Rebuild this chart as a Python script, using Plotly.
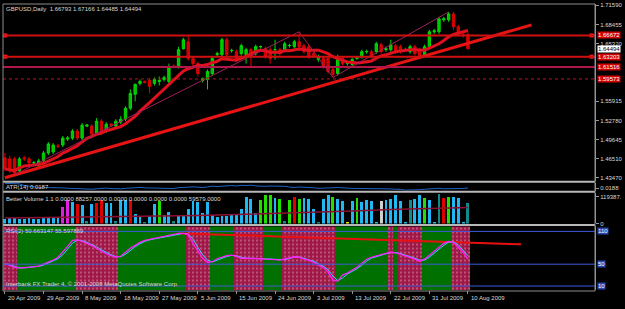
import plotly.graph_objects as go
import pandas as pd

# ---------------- data ----------------
tick_idx = [0, 8, 16, 24, 32, 40, 48, 56, 64, 72, 80, 88, 96]
tick_labels = ["20 Apr 2009", "29 Apr 2009", "8 May 2009", "18 May 2009", "27 May 2009",
               "5 Jun 2009", "15 Jun 2009", "24 Jun 2009", "3 Jul 2009", "13 Jul 2009",
               "22 Jul 2009", "31 Jul 2009", "10 Aug 2009"]

opens = [1.4668, 1.4652, 1.4652, 1.4458, 1.4668, 1.4652, 1.4587, 1.4539, 1.4620, 1.4749,
         1.4765, 1.4863, 1.4879, 1.4976, 1.4992, 1.5106, 1.4992, 1.5187, 1.5187, 1.5073,
         1.5268, 1.5106, 1.5219, 1.5187, 1.5252, 1.5300, 1.5479, 1.5706, 1.5884, 1.5916,
         1.5932, 1.5884, 1.5916, 1.5949, 1.5916, 1.6170, 1.6159, 1.6451, 1.6564, 1.6289,
         1.6208, 1.5932, 1.5949, 1.6046, 1.6354, 1.6354, 1.6597, 1.6419, 1.6402, 1.6370,
         1.6354, 1.6435, 1.6370, 1.6484, 1.6451, 1.6435, 1.6435, 1.6435, 1.6435, 1.6500,
         1.6484, 1.6564, 1.6500, 1.6484, 1.6370, 1.6273, 1.6289, 1.6289, 1.6111, 1.6046,
         1.6289, 1.6208, 1.6192, 1.6289, 1.6321, 1.6402, 1.6402, 1.6402, 1.6516, 1.6435,
         1.6435, 1.6500, 1.6484, 1.6435, 1.6402, 1.6484, 1.6435, 1.6354, 1.6484, 1.6727,
         1.6727, 1.6921, 1.6921, 1.7018, 1.6808, 1.6678, 1.66793]
closes = [1.4490, 1.4458, 1.4425, 1.4652, 1.4655, 1.4587, 1.4590, 1.4620, 1.4749, 1.4895,
          1.4879, 1.4860, 1.4992, 1.4995, 1.5106, 1.4992, 1.5203, 1.5205, 1.5057, 1.5268,
          1.5073, 1.5219, 1.5203, 1.5268, 1.5300, 1.5479, 1.5722, 1.5868, 1.5916, 1.5900,
          1.5835, 1.5949, 1.5932, 1.5981, 1.6159, 1.6159, 1.6435, 1.6597, 1.6289, 1.6208,
          1.6046, 1.5965, 1.6078, 1.6289, 1.6370, 1.6597, 1.6354, 1.6422, 1.6289, 1.6500,
          1.6435, 1.6321, 1.6484, 1.6487, 1.6321, 1.6289, 1.6437, 1.6370, 1.6532, 1.6503,
          1.6564, 1.6484, 1.6402, 1.6321, 1.6338, 1.6321, 1.6159, 1.6078, 1.6030, 1.6273,
          1.6208, 1.6211, 1.6273, 1.6305, 1.6402, 1.6405, 1.6321, 1.6532, 1.6402, 1.6451,
          1.6516, 1.6402, 1.6402, 1.6437, 1.6484, 1.6370, 1.6321, 1.6484, 1.6727, 1.6743,
          1.6937, 1.6940, 1.7018, 1.6808, 1.6694, 1.6676, 1.64494]
highs = [1.4749, 1.4701, 1.4684, 1.4684, 1.4701, 1.4684, 1.4620, 1.4652, 1.4782, 1.4927,
         1.4911, 1.4895, 1.5025, 1.5025, 1.5138, 1.5138, 1.5236, 1.5219, 1.5219, 1.5317,
         1.5300, 1.5252, 1.5236, 1.5300, 1.5349, 1.5511, 1.5787, 1.5884, 1.5949, 1.5932,
         1.5965, 1.5981, 1.5997, 1.6013, 1.6208, 1.6192, 1.6484, 1.6629, 1.6678, 1.6321,
         1.6240, 1.5981, 1.6111, 1.6321, 1.6402, 1.6629, 1.6629, 1.6451, 1.6435, 1.6532,
         1.6467, 1.6467, 1.6516, 1.6500, 1.6484, 1.6467, 1.6597, 1.6467, 1.6564, 1.6532,
         1.6597, 1.6727, 1.6532, 1.6516, 1.6402, 1.6354, 1.6321, 1.6321, 1.6143, 1.6354,
         1.6321, 1.6240, 1.6305, 1.6321, 1.6435, 1.6435, 1.6435, 1.6564, 1.6548, 1.6484,
         1.6597, 1.6532, 1.6516, 1.6467, 1.6516, 1.6516, 1.6467, 1.6516, 1.6759, 1.6775,
         1.6970, 1.6970, 1.7051, 1.7051, 1.6840, 1.6727, 1.67166]
lows = [1.4458, 1.4425, 1.4393, 1.4425, 1.4620, 1.4539, 1.4555, 1.4506, 1.4587, 1.4717,
        1.4733, 1.4830, 1.4846, 1.4944, 1.4960, 1.4960, 1.4960, 1.5171, 1.5025, 1.5041,
        1.5041, 1.5073, 1.5171, 1.5154, 1.5219, 1.5268, 1.5446, 1.5592, 1.5851, 1.5884,
        1.5722, 1.5851, 1.5851, 1.5916, 1.5884, 1.6143, 1.6127, 1.6435, 1.6257, 1.6159,
        1.5997, 1.5900, 1.5787, 1.6013, 1.6321, 1.6321, 1.6321, 1.6386, 1.6240, 1.6338,
        1.6208, 1.6159, 1.6338, 1.6451, 1.6289, 1.6208, 1.6273, 1.6338, 1.6402, 1.6467,
        1.6451, 1.6451, 1.6370, 1.6289, 1.6305, 1.6240, 1.6127, 1.6046, 1.5981, 1.6013,
        1.6176, 1.6176, 1.6159, 1.6273, 1.6289, 1.6370, 1.6289, 1.6370, 1.6370, 1.6402,
        1.6402, 1.6370, 1.6370, 1.6402, 1.6370, 1.6338, 1.6289, 1.6321, 1.6451, 1.6694,
        1.6694, 1.6889, 1.6889, 1.6759, 1.6646, 1.6629, 1.64485]

volumes = [22000, 26500, 26500, 22000, 22000, 26500, 22000, 22000, 26500, 26500,
           31000, 31000, 75000, 106000, 97000, 88000, 84000, 13000, 88000, 93000,
           106000, 93000, 93000, 13000, 106000, 106000, 106000, 44000, 31000, 9000,
           35000, 88000, 102000, 40000, 53000, 13000, 35000, 35000, 66000, 102000,
           97000, 49000, 97000, 40000, 31000, 35000, 35000, 40000, 40000, 66000,
           119000, 110000, 49000, 106000, 128000, 128000, 115000, 110000, 13000, 106000,
           119000, 110000, 115000, 110000, 66000, 9000, 110000, 128000, 119000, 110000,
           102000, 9000, 102000, 115000, 97000, 106000, 102000, 9000, 102000, 106000,
           110000, 128000, 102000, 9000, 106000, 110000, 128000, 115000, 106000, 9000,
           132000, 115000, 119000, 119000, 115000, 9000, 93000]
vol_kind = list("cccccccccccc" "mmcrctcrrcct" "ccrcctccgcct" "cccccccccccc"
                "cccccgggcgtg" "rgccctccgcc" "ycgccccwcccc" "ctccgcctrgcc" "ctc")
vol_avg_idx = [0, 8, 16, 24, 32, 40, 48, 56, 64, 72, 80, 88, 96]
vol_avg = [24300, 26500, 26500, 28700, 31000, 35400, 39800, 44200, 48600, 55300, 61900, 66300, 70800]

rsi = [50.9, 47.3, 44.5, 42.7, 43.6, 44.5, 45.5, 46.4, 50.0, 53.6,
       57.3, 62.7, 71.8, 82.7, 93.6, 94.5, 91.8, 88.2, 84.5, 79.1,
       73.6, 69.1, 65.5, 62.7, 64.5, 71.8, 79.1, 84.5, 90.0, 93.6,
       95.5, 97.3, 99.1, 100.9, 102.7, 104.5, 106.4, 106.4, 104.5, 88.2,
       73.6, 60.9, 53.6, 54.5, 60.0, 62.7, 65.5, 66.4, 64.5, 60.9,
       60.9, 60.9, 60.0, 60.0, 59.1, 59.1, 58.2, 57.3, 59.1, 61.8,
       63.6, 62.7, 59.1, 57.3, 53.6, 48.2, 44.5, 35.5, 20.9, 19.1,
       30.0, 33.6, 39.1, 44.5, 51.8, 59.1, 62.7, 65.5, 68.2, 70.0,
       71.8, 70.9, 68.2, 65.5, 62.7, 59.1, 55.5, 59.1, 66.4, 73.6,
       80.9, 88.2, 91.8, 90.0, 80.9, 71.8, 59.1]
# 1 = green zone, 0 = crimson zone
rsi_zone = ([0] * 3 + [1] * 12 + [0] * 9 + [1] * 14 + [0] * 5 + [1] * 5 + [0] * 6 +
            [1] * 4 + [0] * 11 + [1] * 11 + [0] + [1] + [0] * 5 + [1] * 6 + [0] * 4)
rsi_levels = [110, 50, 10]
rsi_trend = ([36, 107], [106.4, 86.4])

h_levels = [1.66672, 1.63203, 1.61516, 1.59573]
trend_main = ([0, 109.2], [1.4344, 1.6840])
zigzag_idx = [2, 61, 68, 92]
price_ticks = [1.71590, 1.68455, 1.65320, 1.55915, 1.52780, 1.49645, 1.46510, 1.43470]

# ---------------- geometry ----------------
W, H = 625, 309
ML, MR, MT, MB = 3, 23, 2, 18
PW, PH = W - ML - MR, H - MT - MB
BAR_PX = 4.88
x_range = [-0.4, PW / BAR_PX - 0.4]


def fx(px):
    return (px - ML) / PW


def fy(py):
    return (H - MB - py) / PH


FONT = "Liberation Sans, Arial, sans-serif"
FS = 6
TXT = "#d8d8d8"
AX = "#9a9a9a"

n = len(closes)
xs = list(range(n))
df = pd.DataFrame({"o": opens, "h": highs, "l": lows, "c": closes})
ma = df["c"].rolling(10, min_periods=1).mean()
prev_c = df["c"].shift(1).fillna(df["o"])
tr = pd.concat([df["h"] - df["l"], (df["h"] - prev_c).abs(), (df["l"] - prev_c).abs()], axis=1).max(axis=1)
atr = tr.rolling(14, min_periods=1).mean()
rsi_sig = pd.Series(rsi).rolling(2, min_periods=1).mean()

fig = go.Figure()

# main panel
fig.add_trace(go.Candlestick(
    x=xs, open=opens, high=highs, low=lows, close=closes, xaxis="x", yaxis="y",
    increasing=dict(line=dict(color="#00d800", width=1), fillcolor="#00c000"),
    decreasing=dict(line=dict(color="#e00000", width=1), fillcolor="#d00000"),
    whiskerwidth=0, hoverinfo="skip", showlegend=False))
fig.add_trace(go.Scatter(x=xs, y=ma, mode="lines", line=dict(color="#e0101e", width=3),
                         xaxis="x", yaxis="y", showlegend=False, hoverinfo="skip"))
fig.add_trace(go.Scatter(x=trend_main[0], y=trend_main[1], mode="lines",
                         line=dict(color="#e81414", width=3), xaxis="x", yaxis="y",
                         showlegend=False, hoverinfo="skip"))
zz_y = [lows[zigzag_idx[0]], highs[zigzag_idx[1]], lows[zigzag_idx[2]], highs[zigzag_idx[3]]]
fig.add_trace(go.Scatter(x=zigzag_idx, y=zz_y, mode="lines", line=dict(color="#a0205a", width=1),
                         xaxis="x", yaxis="y", showlegend=False, hoverinfo="skip"))
fig.add_trace(go.Scatter(x=[x_range[0] + 0.5] * 2 + [x_range[1] - 0.7] * 2,
                         y=[h_levels[0], h_levels[1]] * 2, mode="markers",
                         marker=dict(symbol="square", size=4, color="#ff2020"),
                         xaxis="x", yaxis="y", showlegend=False, hoverinfo="skip", cliponaxis=False))

# ATR panel
fig.add_trace(go.Scatter(x=xs, y=atr, mode="lines", line=dict(color="#1e64c8", width=1),
                         xaxis="x", yaxis="y2", showlegend=False, hoverinfo="skip"))

# volume panel
vcol = {"c": "#20b8f4", "r": "#e00000", "g": "#20e000", "m": "#e020e0",
        "t": "#108a8a", "y": "#e0e000", "w": "#d0d0d0"}
fig.add_trace(go.Bar(x=xs, y=volumes, width=0.6, marker=dict(color=[vcol[k] for k in vol_kind], line=dict(width=0)),
                     xaxis="x", yaxis="y3", showlegend=False, hoverinfo="skip"))
fig.add_trace(go.Scatter(x=vol_avg_idx, y=vol_avg, mode="lines", line=dict(color="#8c1030", width=1.5),
                         xaxis="x", yaxis="y3", showlegend=False, hoverinfo="skip"))

# RSI panel
R_LO, R_HI = 10 - 4 / 0.55, 110 + 5 / 0.55
fig.add_trace(go.Bar(x=xs, y=[R_HI - R_LO] * n, base=R_LO, width=1.0,
                     marker=dict(color=["#007000" if z else "#a01848" for z in rsi_zone], line=dict(width=0),
                                 pattern=dict(shape=["" if z else "." for z in rsi_zone],
                                              fgcolor="#50001c", size=4, solidity=0.15)),
                     xaxis="x", yaxis="y4", showlegend=False, hoverinfo="skip"))
for lv in rsi_levels:
    fig.add_shape(type="line", xref="paper", x0=0, x1=1, yref="y4", y0=lv, y1=lv,
                  line=dict(color="#3c5ad8", width=1))
fig.add_trace(go.Scatter(x=rsi_trend[0], y=rsi_trend[1], mode="lines", line=dict(color="#e81010", width=2),
                         xaxis="x", yaxis="y4", showlegend=False, hoverinfo="skip"))
fig.add_trace(go.Scatter(x=xs, y=rsi_sig, mode="lines", line=dict(color="#40c8ff", width=1),
                         xaxis="x", yaxis="y4", showlegend=False, hoverinfo="skip"))
fig.add_trace(go.Scatter(x=xs, y=rsi, mode="lines", line=dict(color="#ff20ff", width=1.3),
                         xaxis="x", yaxis="y4", showlegend=False, hoverinfo="skip"))

# horizontal price levels
lv_styles = [dict(color="#d01010", width=2), dict(color="#d01010", width=2),
             dict(color="#b0184a", width=2), dict(color="#c01020", width=1, dash="dot")]
for lv, st in zip(h_levels, lv_styles):
    fig.add_shape(type="line", xref="paper", x0=0, x1=1, yref="y", y0=lv, y1=lv, line=st)

# panel separators and frame
for py in (181, 191, 224.5):
    fig.add_shape(type="line", xref="paper", x0=0, x1=1, yref="paper", y0=fy(py), y1=fy(py),
                  line=dict(color="#b8b8b8", width=2))
fig.add_shape(type="rect", xref="paper", yref="paper", x0=0, x1=1, y0=0, y1=1,
              line=dict(color="#8c8c8c", width=1))

yax_common = dict(side="right", anchor="x", showgrid=False, zeroline=False, showline=True,
                  linecolor=AX, ticks="outside", ticklen=3, tickcolor=AX,
                  tickfont=dict(family=FONT, size=FS, color=TXT))
fig.update_layout(
    width=W, height=H, margin=dict(l=ML, r=MR, t=MT, b=MB),
    paper_bgcolor="#000000", plot_bgcolor="#000000", showlegend=False, bargap=0,
    font=dict(family=FONT, size=FS, color=TXT),
    xaxis=dict(domain=[0, 1], range=x_range, anchor="y4", showgrid=False, zeroline=False,
               showline=False, tickvals=tick_idx, ticks="outside", ticklen=3, tickcolor=AX,
               showticklabels=False, rangeslider=dict(visible=False)),
    yaxis=dict(domain=[fy(180), fy(2)], range=[1.72127 - 0.0016207 * 180, 1.72127 - 0.0016207 * 2],
               tickvals=price_ticks, ticktext=["%.5f" % v for v in price_ticks], **yax_common),
    yaxis2=dict(domain=[fy(190), fy(182)], range=[float(atr.min()) * 0.9, float(atr.max()) * 1.05],
                tickvals=[float(atr.iloc[-1])], ticktext=["0.0188"], **yax_common),
    yaxis3=dict(domain=[fy(223), fy(192)], range=[0, 137000],
                tickvals=[119387, 0], ticktext=["119387.", "0"], **yax_common),
    yaxis4=dict(domain=[fy(290), fy(226)], range=[R_LO, R_HI],
                tickvals=[], **yax_common),
)

ann = []
for i, lab in zip(tick_idx, tick_labels):
    ann.append(dict(x=i, xref="x", y=fy(298), yref="paper", text=lab, showarrow=False,
                    xanchor="left", yanchor="middle", xshift=1, font=dict(size=FS, color=TXT)))
texts = [("GBPUSD,Daily  1.66793 1.67166 1.64485 1.64494", 7),
         ("ATR(14) 0.0187", 186.5),
         ("Better Volume 1.1 0.0000 88257.0000 0.0000 0.0000 0.0000 0.0000 59579.0000", 198),
         ("RSI(2) 50.663147 55.597869", 230.5),
         ("Interbank FX Trader 4, \u00a9 2001-2008 MetaQuotes Software Corp.", 284)]
for t, py in texts:
    ann.append(dict(x=fx(4), xref="paper", y=fy(py), yref="paper", text=t, showarrow=False,
                    xanchor="left", yanchor="middle", font=dict(size=FS, color=TXT)))
for lv in h_levels:
    ann.append(dict(x=fx(604), xref="paper", y=lv, yref="y", text="%.5f" % lv, showarrow=False,
                    xanchor="left", yanchor="middle", bgcolor="#d00000", borderpad=0,
                    font=dict(size=FS, color="#ffffff")))
ann.append(dict(x=fx(604), xref="paper", y=closes[-1], yref="y", text="%.5f" % closes[-1], showarrow=False,
                xanchor="left", yanchor="middle", bgcolor="#ffffff", borderpad=0,
                font=dict(size=FS, color="#000000")))
for lv in rsi_levels:
    ann.append(dict(x=fx(604), xref="paper", y=lv, yref="y4", text=str(lv), showarrow=False,
                    xanchor="left", yanchor="middle", bgcolor="#2848b0", borderpad=0,
                    font=dict(size=FS, color="#ffffff")))
fig.update_layout(annotations=ann)

fig.write_html("out.html", config={"displayModeBar": False})
